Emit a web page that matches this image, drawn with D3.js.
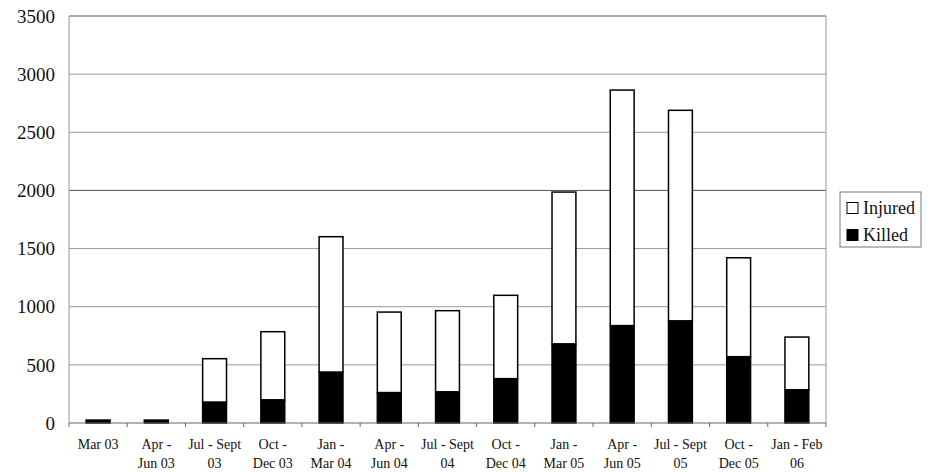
<!DOCTYPE html>
<html>
<head>
<meta charset="utf-8">
<script src="https://cdn.jsdelivr.net/npm/d3@7"></script>
<style>
  body { margin: 0; background: #fff; }
  svg { display: block; }
</style>
</head>
<body>
<svg width="933" height="472"></svg>
<script>
// periods (two-line labels)
const periods = [
  ["Mar 03", ""], ["Apr -", "Jun 03"], ["Jul - Sept", "03"], ["Oct -", "Dec 03"],
  ["Jan -", "Mar 04"], ["Apr -", "Jun 04"], ["Jul - Sept", "04"], ["Oct -", "Dec 04"],
  ["Jan -", "Mar 05"], ["Apr -", "Jun 05"], ["Jul - Sept", "05"], ["Oct -", "Dec 05"],
  ["Jan - Feb", "06"]
];
const killed  = [20, 20, 178, 198, 436, 261, 267, 381, 679, 837, 877, 570, 286];
const injured = [5, 5, 375, 587, 1166, 693, 699, 717, 1307, 2026, 1812, 851, 453];
const yTicks = [0, 500, 1000, 1500, 2000, 2500, 3000, 3500];

const svg = d3.select("svg");
const serif = "Liberation Serif, Times New Roman, Times, Tinos, Noto Serif, DejaVu Serif, FreeSerif, serif";
const plotL = 69, plotR = 826, plotT = 16, plotB = 423;

const x = d3.scaleBand()
  .domain(d3.range(periods.length))
  .range([plotL, plotR])
  .paddingInner(0.59)
  .paddingOuter(0.295);

const y = d3.scaleLinear().domain([0, 3500]).range([plotB, plotT]);

// gridlines
svg.append("g")
  .selectAll("line")
  .data(yTicks.filter(d => d > 0))
  .join("line")
  .attr("x1", plotL).attr("x2", plotR)
  .attr("y1", d => y(d)).attr("y2", d => y(d))
  .attr("stroke", d => (d == 2000 || d == 3500) ? "#555" : "#999")
  .attr("stroke-width", 1);

// right frame edge and left axis
svg.append("line").attr("x1", plotR).attr("x2", plotR).attr("y1", plotT).attr("y2", plotB)
  .attr("stroke", "#999");
svg.append("line").attr("x1", plotL).attr("x2", plotL).attr("y1", plotT).attr("y2", plotB)
  .attr("stroke", "#999");

// y labels
svg.append("g")
  .selectAll("text")
  .data(yTicks)
  .join("text")
  .attr("x", 55)
  .attr("y", d => y(d))
  .attr("dy", "0.35em")
  .attr("text-anchor", "end")
  .style("font-family", serif)
  .attr("font-size", 19)
  .attr("fill", "#111")
  .text(d => d);

// stacked bars
const bw = x.bandwidth();
const g = svg.append("g");
periods.forEach((p, i) => {
  const total = killed[i] + injured[i];
  g.append("rect")
    .attr("x", x(i)).attr("width", bw)
    .attr("y", y(total)).attr("height", y(killed[i]) - y(total))
    .attr("fill", "#fff").attr("stroke", "#000").attr("stroke-width", 1.5);
  g.append("rect")
    .attr("x", x(i)).attr("width", bw)
    .attr("y", y(killed[i])).attr("height", y(0) - y(killed[i]))
    .attr("fill", "#000").attr("stroke", "#000").attr("stroke-width", 1.5);
});

// x axis line + ticks between categories
const step = x.step();
svg.append("line").attr("x1", plotL).attr("x2", plotR).attr("y1", plotB).attr("y2", plotB)
  .attr("stroke", "#666").attr("stroke-width", 1.2);
svg.append("g")
  .selectAll("line")
  .data(d3.range(periods.length + 1))
  .join("line")
  .attr("x1", i => plotL + i * step).attr("x2", i => plotL + i * step)
  .attr("y1", plotB).attr("y2", plotB + 4)
  .attr("stroke", "#666");

// x labels
const xl = svg.append("g")
  .selectAll("text")
  .data(periods)
  .join("text")
  .attr("text-anchor", "middle")
  .style("font-family", serif)
  .attr("font-size", 14)
  .attr("fill", "#111");
xl.append("tspan")
  .attr("x", (d, i) => x(i) + bw / 2).attr("y", 449)
  .text(d => d[0]);
xl.append("tspan")
  .attr("x", (d, i) => x(i) + bw / 2).attr("y", 468)
  .text(d => d[1]);

// legend
const lg = svg.append("g");
lg.append("rect").attr("x", 840).attr("y", 192).attr("width", 81).attr("height", 55)
  .attr("fill", "#fff").attr("stroke", "#777");
const legendItems = [["Injured", "#fff"], ["Killed", "#000"]];
legendItems.forEach((d, i) => {
  const cy = 208 + i * 27;
  lg.append("rect").attr("x", 847).attr("y", cy - 5.5).attr("width", 11).attr("height", 11)
    .attr("fill", d[1]).attr("stroke", "#000").attr("stroke-width", 1);
  lg.append("text").attr("x", 863).attr("y", cy).attr("dy", "0.35em")
    .style("font-family", serif)
    .attr("font-size", 18).attr("fill", "#111").text(d[0]);
});
</script>
</body>
</html>
